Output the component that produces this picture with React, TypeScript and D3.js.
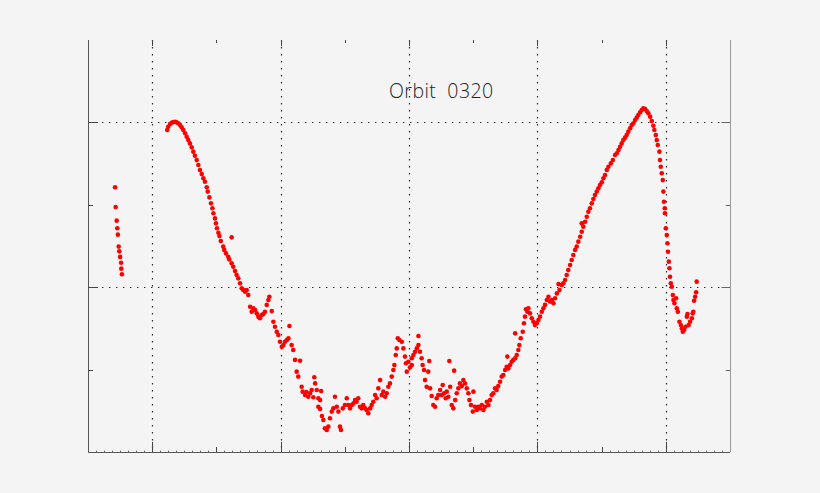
import React from "react";
import { select, scaleLinear, range } from "d3";

// orbit track samples: time (arbitrary units) and signal level
const orbitTime = [
  13.5, 13.8, 14.3, 14.6, 14.9, 15.3, 15.6, 16.0, 16.5, 16.6, 16.9,
  39.5, 40.0, 40.9, 41.7, 42.5, 43.4, 44.2, 45.0, 45.9, 46.7, 47.5, 48.4, 49.2, 50.0, 50.8,
  51.7, 52.5, 53.3, 54.2, 55.0, 55.8, 56.7, 57.5, 58.3, 59.2, 59.7, 60.5, 61.3, 62.0, 62.5,
  63.3, 63.8, 64.3, 65.0, 65.5, 66.2, 67.4, 67.9, 68.8, 69.9, 70.4, 71.6, 71.6, 72.4, 73.3,
  74.1, 74.9, 75.8, 76.6, 77.4, 78.3, 79.1, 79.9, 80.8, 81.6, 82.4, 83.3, 84.1, 84.9, 85.7,
  86.6, 87.4, 88.2, 89.1, 89.9, 90.4, 91.6, 92.4, 93.2, 94.1, 94.9, 95.7, 96.6, 97.4, 98.2,
  99.1, 99.9, 100.4, 101.5, 102.3, 103.2, 104.0, 104.8, 105.7, 106.5, 107.0, 108.2, 108.9,
  109.8, 110.7, 111.5, 112.3, 112.8, 113.2, 114.0, 114.8, 116.2, 115.7, 114.8, 115.7, 116.6,
  117.3, 118.1, 119.0, 119.8, 120.6, 121.5, 122.3, 123.1, 124.0, 124.8, 125.6, 126.1, 127.0,
  128.1, 129.0, 129.8, 130.6, 131.5, 132.3, 133.1, 133.9, 134.7, 135.6, 136.4, 137.2, 138.1,
  138.9, 139.7, 140.6, 141.4, 142.2, 143.1, 143.9, 144.7, 145.6, 146.4, 147.2, 148.1, 148.9,
  149.7, 150.5, 151.4, 152.2, 152.7, 153.4, 153.9, 154.4, 155.2, 156.4, 157.2, 158.0, 158.5,
  158.9, 159.7, 160.5, 161.4, 161.4, 162.2, 163.0, 163.9, 164.7, 164.7, 165.5, 166.3, 166.8,
  167.5, 168.0, 168.8, 169.6, 170.1, 170.5, 171.3, 172.1, 173.0, 173.8, 174.6, 175.5, 176.3,
  176.8, 177.5, 178.3, 178.8, 179.6, 180.1, 180.5, 181.3, 182.1, 182.5, 183.0, 183.8, 184.6,
  185.4, 186.3, 187.1, 187.9, 188.8, 189.6, 190.1, 190.9, 191.8, 192.1, 192.9, 193.8, 194.6,
  195.4, 196.3, 197.1, 197.9, 198.8, 199.6, 200.4, 201.2, 202.0, 202.9, 203.7, 204.5, 205.4,
  206.2, 207.0, 207.9, 208.7, 209.0, 209.5, 210.4, 211.2, 212.0, 212.9, 212.9, 213.7, 214.5,
  215.0, 215.7, 216.7, 217.3, 217.8, 218.3, 219.0, 219.5, 220.3, 221.2, 222.0, 222.8, 223.7,
  224.5, 225.3, 226.2, 227.0, 227.8, 228.7, 229.5, 230.3, 231.2, 232.0, 232.8, 233.7, 234.5,
  235.0, 236.1, 236.9, 237.8, 238.6, 239.4, 240.3, 241.1, 241.9, 242.8, 243.6, 244.4, 245.3,
  246.1, 246.1, 246.9, 247.8, 248.6, 249.4, 250.2, 251.1, 251.9, 252.7, 253.6, 254.4, 255.2,
  256.1, 256.9, 257.7, 258.6, 259.4, 260.6, 261.6, 262.7, 263.6, 264.4, 265.2, 266.0, 266.8,
  267.7, 268.5, 269.3, 270.2, 271.0, 271.8, 272.7, 273.5, 274.3, 275.2, 276.0, 276.8, 277.7,
  278.5, 279.3, 280.2, 281.0, 281.8, 282.3, 283.0, 283.5, 284.0, 284.8, 285.1, 285.5, 286.0,
  286.5, 286.8, 287.1, 287.5, 287.6, 288.0, 288.5, 288.8, 289.1, 289.5, 289.8, 290.1, 290.5,
  291.0, 291.5, 291.8, 292.3, 293.1, 293.5, 294.0, 294.8, 295.5, 296.0, 296.5, 297.1, 297.8,
  298.5, 298.8, 299.4, 300.1, 301.0, 301.4, 301.7, 302.1, 302.6, 303.1, 303.4,
];

const orbitValue = [
  128.5, 118.9, 112.3, 108.6, 105.5, 99.7, 97.4, 94.7, 91.9, 89.0, 86.3,
  156.3, 157.9, 159.2, 159.8, 160.2, 160.3, 160.0, 159.6, 158.7, 157.6, 156.3, 154.7, 153.0, 151.4, 149.8,
  147.9, 145.8, 143.8, 141.7, 139.3, 136.9, 134.9, 132.9, 131.2, 128.5, 126.4, 123.6, 120.7, 118.3, 115.9,
  113.4, 111.0, 108.6, 106.4, 104.8, 102.4, 99.7, 98.1, 96.4, 94.8, 93.5, 104.2, 91.6, 89.9, 87.9,
  85.9, 84.3, 81.9, 79.5, 78.6, 77.8, 78.6, 76.2, 70.5, 68.1, 69.8, 68.9, 67.3, 65.7, 64.9,
  66.5, 67.0, 68.1, 71.4, 73.8, 75.4, 68.4, 63.2, 60.8, 58.4, 56.8, 53.5, 51.1, 51.9, 53.5,
  54.4, 55.2, 61.2, 51.9, 49.5, 44.7, 39.0, 36.6, 44.3, 31.7, 29.3, 27.7, 29.1,
  26.8, 28.5, 30.1, 26.6, 36.3, 33.3, 30.1, 26.1, 29.6, 25.2, 22.0, 20.9, 17.5,
  15.5, 11.5, 10.7, 12.3, 16.4, 19.6, 21.2, 26.8, 22.0, 19.6, 12.3, 10.7, 21.2,
  22.8, 26.1, 22.8, 21.2, 22.8, 23.6, 25.2, 24.4, 26.1, 22.0, 21.2, 22.8, 21.2,
  20.4, 18.8, 21.2, 22.8, 24.4, 27.7, 26.1, 30.9, 34.9, 27.7, 29.3, 26.8, 28.5,
  31.7, 33.3, 36.6, 39.8, 42.2, 47.1, 50.3, 55.2, 54.4, 53.5, 50.3, 46.3, 43.1,
  39.0, 43.8, 41.1, 42.2, 45.5, 47.1, 48.7, 50.3, 56.3, 51.9, 48.7, 45.5, 42.2,
  39.8, 34.9, 31.7, 39.0, 44.2, 30.9, 27.2, 22.8, 22.0, 26.1, 27.7, 30.1, 27.7,
  32.5, 28.5, 26.1, 29.3, 26.8, 44.2, 31.7, 22.8, 21.2, 39.5, 25.2, 28.5, 30.9,
  33.3, 32.0, 34.9, 33.3, 30.9, 28.5, 25.2, 22.8, 19.6, 29.3, 22.0, 20.4, 22.0,
  21.2, 22.8, 20.4, 22.0, 24.4, 22.8, 25.2, 27.7, 28.5, 30.9, 30.1, 32.0, 34.1,
  36.6, 37.4, 39.8, 41.4, 46.3, 40.6, 42.2, 43.8, 44.7, 45.5, 57.6, 47.1, 49.5,
  51.9, 55.2, 58.4, 62.5, 65.7, 69.3, 68.1, 69.8, 67.3, 64.9, 63.2, 61.6, 62.5,
  64.1, 65.7, 68.1, 69.8, 71.4, 73.8, 75.4, 73.0, 73.8, 72.2, 74.6, 77.0, 81.5,
  78.6, 81.1, 81.9, 83.5, 85.9, 88.3, 90.8, 93.2, 95.6, 98.1, 99.7, 102.1, 104.5,
  111.0, 106.9, 109.4, 111.8, 114.2, 116.6, 118.3, 120.7, 122.8, 124.7, 126.4, 128.0, 129.6,
  130.9, 132.9, 134.5, 136.9, 138.5, 140.1, 141.7, 144.2, 145.0, 146.6, 148.2, 149.8, 151.4,
  152.6, 153.9, 155.5, 157.1, 158.7, 159.6, 161.2, 162.3, 163.6, 164.9, 166.0, 166.8, 166.5,
  165.5, 164.4, 162.8, 160.7, 158.4, 156.3, 153.9, 151.4, 149.0, 145.8, 141.7, 138.5, 135.3,
  132.0, 126.4, 121.5, 118.3, 115.9, 108.6, 105.3, 101.3, 97.2, 92.4, 89.2, 85.1, 81.9,
  80.2, 76.2, 73.8, 72.2, 74.6, 69.8, 68.1, 63.2, 61.6, 60.0, 58.4, 59.2, 60.8,
  65.7, 67.0, 61.6, 63.2, 64.9, 67.3, 68.1, 73.4, 75.4, 77.5, 82.7,
];

const xMajor = [32, 96, 160, 224, 288];
const xMinor = [64, 128, 192, 256];
const yMajor = [80, 160];
const yMinor = [40, 120];
const title = "Orbit  0320";

const W = 820;
const H = 493;

const App = () => {
  const svgRef = React.useRef(null);

  React.useEffect(() => {
    const svg = select(svgRef.current);
    const left = 88;
    const right = 730;
    const top = 40;
    const bottom = 452;

    const x = scaleLinear().domain([0, 320]).range([left, right]);
    const y = scaleLinear().domain([0, 200]).range([bottom, top]);

    svg.append("rect").attr("width", W).attr("height", H).attr("fill", "#f4f4f4");

    // dotted grid
    const grid = svg
      .append("g")
      .attr("stroke", "#2a2a2a")
      .attr("stroke-width", 1.2)
      .attr("stroke-dasharray", "1.4,5.6");
    grid
      .selectAll("line.v")
      .data(xMajor)
      .join("line")
      .attr("class", "v")
      .attr("x1", (d) => Math.round(x(d)) + 0.5)
      .attr("x2", (d) => Math.round(x(d)) + 0.5)
      .attr("y1", top)
      .attr("y2", bottom);
    grid
      .selectAll("line.h")
      .data(yMajor)
      .join("line")
      .attr("class", "h")
      .attr("y1", (d) => Math.round(y(d)) + 0.5)
      .attr("y2", (d) => Math.round(y(d)) + 0.5)
      .attr("x1", left)
      .attr("x2", right);

    const axes = svg.append("g").attr("stroke-width", 1).attr("fill", "none");
    // left and bottom frame
    axes
      .append("path")
      .attr("d", `M${left + 0.5},${top}V${bottom + 0.5}H${right}`)
      .attr("stroke", "#555");
    // right frame
    axes
      .append("path")
      .attr("d", `M${right + 0.5},${top}V${bottom + 0.5}`)
      .attr("stroke", "#9a9a9a");

    // bottom tiny ticks
    const tiny = range(0, 321, 4).filter((d) => d % 32 !== 0);
    axes
      .selectAll("line.tiny")
      .data(tiny)
      .join("line")
      .attr("class", "tiny")
      .attr("stroke", "#777")
      .attr("x1", (d) => Math.round(x(d)) + 0.5)
      .attr("x2", (d) => Math.round(x(d)) + 0.5)
      .attr("y1", bottom - 1.5)
      .attr("y2", bottom);

    const tickX = (vals: number[], len: number, cls: string) => {
      axes
        .selectAll(`line.b${cls}`)
        .data(vals)
        .join("line")
        .attr("class", `b${cls}`)
        .attr("stroke", "#444")
        .attr("x1", (d) => Math.round(x(d)) + 0.5)
        .attr("x2", (d) => Math.round(x(d)) + 0.5)
        .attr("y1", bottom - len)
        .attr("y2", bottom);
      axes
        .selectAll(`line.t${cls}`)
        .data(vals)
        .join("line")
        .attr("class", `t${cls}`)
        .attr("stroke", "#444")
        .attr("x1", (d) => Math.round(x(d)) + 0.5)
        .attr("x2", (d) => Math.round(x(d)) + 0.5)
        .attr("y1", top)
        .attr("y2", top + len * 0.6);
    };
    tickX(xMajor, 10, "maj");
    tickX(xMinor, 5, "min");

    const tickY = (vals: number[], len: number, cls: string) => {
      axes
        .selectAll(`line.l${cls}`)
        .data(vals)
        .join("line")
        .attr("class", `l${cls}`)
        .attr("stroke", "#444")
        .attr("y1", (d) => Math.round(y(d)) + 0.5)
        .attr("y2", (d) => Math.round(y(d)) + 0.5)
        .attr("x1", left)
        .attr("x2", left + len);
      axes
        .selectAll(`line.r${cls}`)
        .data(vals)
        .join("line")
        .attr("class", `r${cls}`)
        .attr("stroke", "#666")
        .attr("y1", (d) => Math.round(y(d)) + 0.5)
        .attr("y2", (d) => Math.round(y(d)) + 0.5)
        .attr("x1", right - len * 0.85)
        .attr("x2", right);
    };
    tickY(yMajor, 10, "maj");
    tickY(yMinor, 5, "min");

    svg
      .append("text")
      .attr("x", 389)
      .attr("y", 98)
      .attr("fill", "#222")
      .attr("font-family", "'Open Sans', 'DejaVu Sans', sans-serif")
      .attr("font-weight", 300)
      .attr("font-size", 19.5)
      .attr("letter-spacing", 0.45)
      .style("white-space", "pre")
      .text(title);

    svg
      .append("g")
      .attr("fill", "#ff0000")
      .selectAll("circle")
      .data(orbitTime.map((t, i) => [t, orbitValue[i]]))
      .join("circle")
      .attr("cx", (d) => x(d[0]))
      .attr("cy", (d) => y(d[1]))
      .attr("r", 2.3);

    return () => {
      svg.selectAll("*").remove();
    };
  }, []);

  return (
    <svg
      ref={svgRef}
      width={W}
      height={H}
      style={{ position: "absolute", left: 0, top: 0 }}
    />
  );
};

export default App;
